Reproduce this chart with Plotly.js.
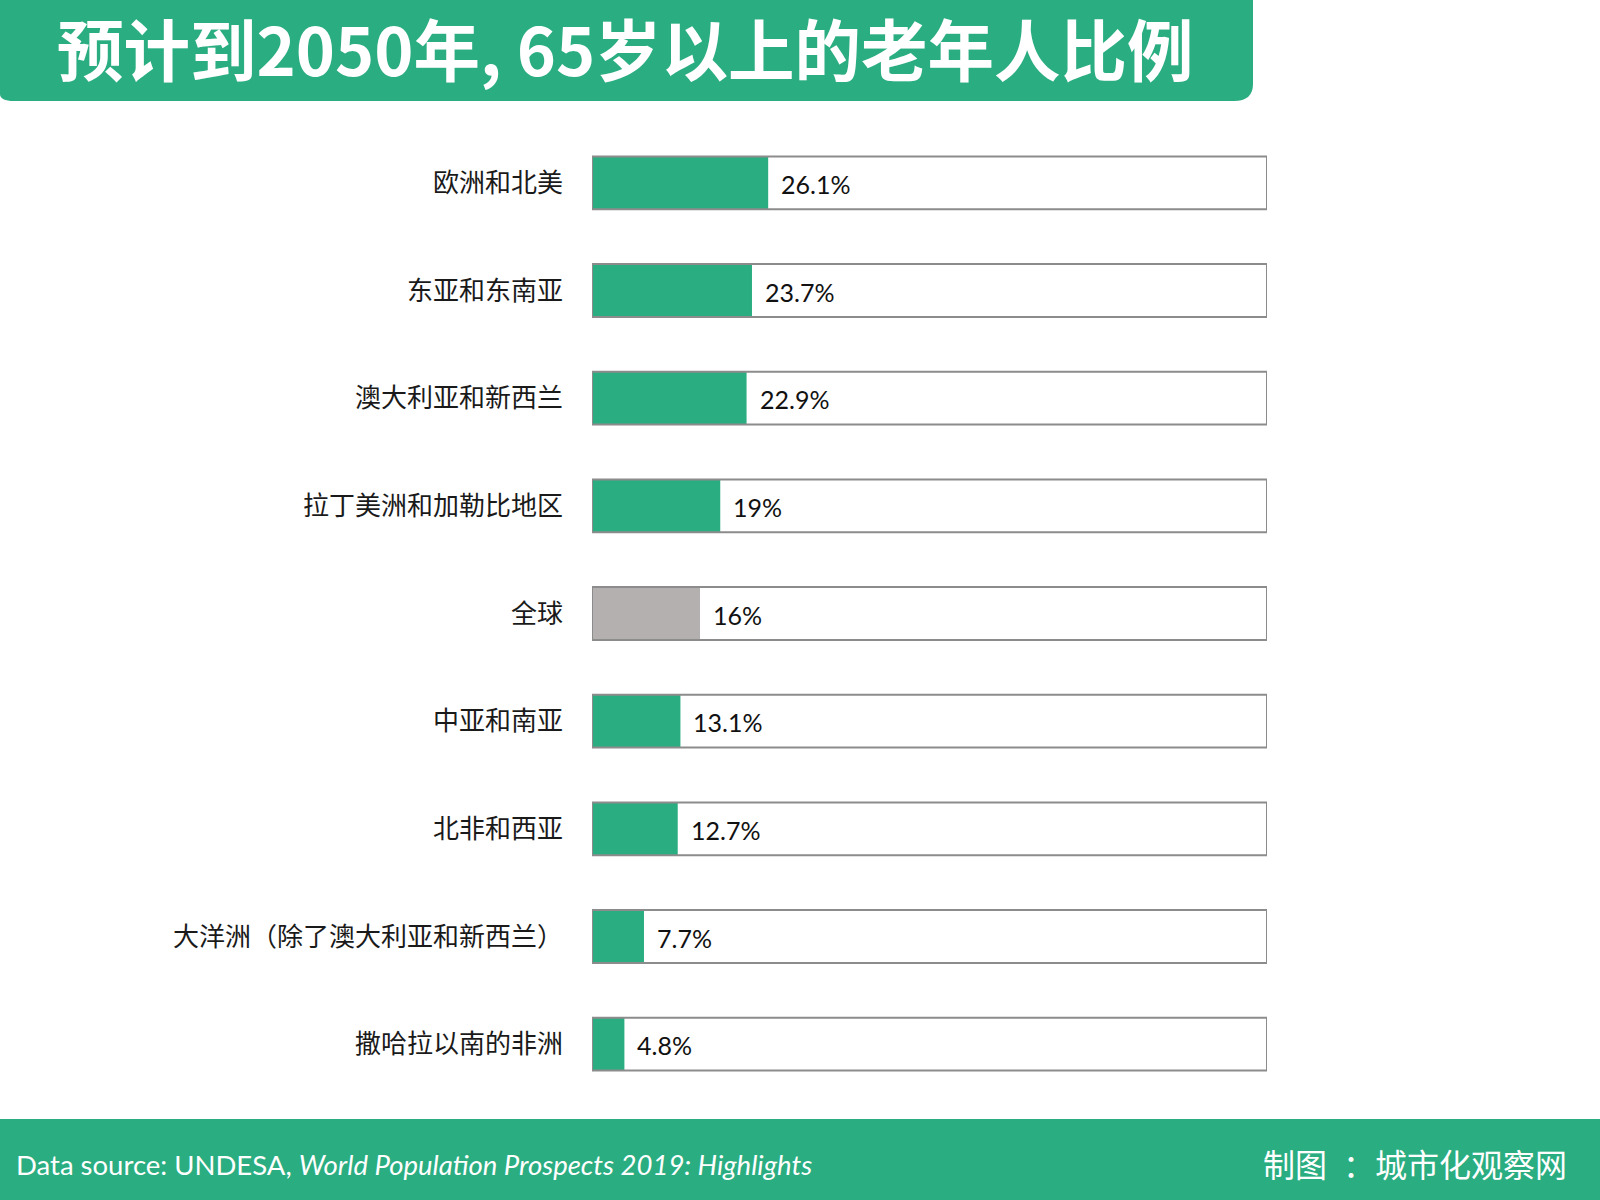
<!DOCTYPE html>
<html>
<head>
<meta charset="utf-8">
<script src="https://cdn.plot.ly/plotly-3.0.1.min.js"></script>
<style>html,body{margin:0;padding:0;background:#fff;}#chart{width:1600px;height:1200px;}</style>
</head>
<body>
<div id="chart"></div>
<script>
const categories = ["欧洲和北美","东亚和东南亚","澳大利亚和新西兰","拉丁美洲和加勒比地区","全球","中亚和南亚","北非和西亚","大洋洲（除了澳大利亚和新西兰）","撒哈拉以南的非洲"];
const values = [26.1, 23.7, 22.9, 19, 16, 13.1, 12.7, 7.7, 4.8];
const fullScale = [100, 100, 100, 100, 100, 100, 100, 100, 100];
const valueLabels = ["26.1%","23.7%","22.9%","19%","16%","13.1%","12.7%","7.7%","4.8%"];
const titleText = "预计到2050年, 65岁以上的老年人比例";
const sourceText = "Data source: UNDESA, <i>World Population Prospects 2019: Highlights</i>";
const creditLabel = "制图";
const creditName = "：城市化观察网";

const GREEN = "#2AAD81";
const GREY = "#B5B0B0";
const barColors = categories.map(c => c === "全球" ? GREY : GREEN);

const W = 1600, H = 1200;
const L = 592, R = 1267, T = 129, B = 1098;
const px = x => (x - L) / (R - L);
const py = y => (B - y) / (B - T);

const traceBars = {
  type: "bar", orientation: "h",
  y: categories, x: values,
  marker: {color: barColors, line: {width: 0}},
  width: 0.49, hoverinfo: "skip"
};
const traceFrame = {
  type: "bar", orientation: "h",
  y: categories, x: fullScale,
  marker: {color: "rgba(0,0,0,0)", line: {color: "#8C8C8C", width: 2}},
  width: 0.49, hoverinfo: "skip"
};

const annotations = categories.map((c, i) => ({
  x: values[i], y: c, xref: "x", yref: "y",
  text: valueLabels[i], showarrow: false,
  xanchor: "left", yanchor: "middle", xshift: 11, yshift: -1,
  font: {family: "Lato, 'Noto Sans', sans-serif", size: 25, color: "#111"}
}));

annotations.push({
  xref: "paper", yref: "paper", x: px(55), y: py(47),
  xanchor: "left", yanchor: "middle", showarrow: false,
  text: "<b>" + titleText + "</b>",
  font: {family: "'Noto Sans CJK SC', sans-serif", size: 66.5, color: "#fff"}
});
annotations.push({
  xref: "paper", yref: "paper", x: px(14), y: py(1164),
  xanchor: "left", yanchor: "middle", showarrow: false,
  text: sourceText,
  font: {family: "Lato, sans-serif", size: 27.5, color: "#fff"}
});
const creditFont = {family: "'Noto Sans CJK SC', sans-serif", size: 32, color: "#fff"};
annotations.push({
  xref: "paper", yref: "paper", x: px(1261), y: py(1163),
  xanchor: "left", yanchor: "middle", showarrow: false,
  text: creditLabel, font: creditFont
});
annotations.push({
  xref: "paper", yref: "paper", x: px(1569), y: py(1163),
  xanchor: "right", yanchor: "middle", showarrow: false,
  text: creditName, font: creditFont
});

const titlePath = "M " + px(0) + "," + py(0) +
  " L " + px(1253) + "," + py(0) +
  " L " + px(1253) + "," + py(84) +
  " Q " + px(1253) + "," + py(101) + " " + px(1234) + "," + py(101) +
  " L " + px(14) + "," + py(101) +
  " Q " + px(0) + "," + py(101) + " " + px(0) + "," + py(94) + " Z";

const shapes = [
  {type: "path", xref: "paper", yref: "paper", path: titlePath, fillcolor: GREEN, line: {width: 0}, layer: "below"},
  {type: "rect", xref: "paper", yref: "paper", x0: px(0), x1: px(W), y0: py(1119), y1: py(H), fillcolor: GREEN, line: {width: 0}, layer: "below"}
];

const layout = {
  width: W, height: H,
  margin: {l: L, r: W - R, t: T, b: H - B, pad: 0},
  paper_bgcolor: "#fff", plot_bgcolor: "#fff",
  barmode: "overlay", showlegend: false,
  xaxis: {range: [0, 100], visible: false, fixedrange: true},
  yaxis: {
    type: "category", autorange: "reversed",
    showgrid: false, zeroline: false, showline: false, ticks: "",
    ticklabelstandoff: 28,
    tickfont: {family: "'Noto Sans CJK SC', sans-serif", size: 26, color: "#1a1a1a"}
  },
  annotations: annotations,
  shapes: shapes
};

Plotly.newPlot("chart", [traceBars, traceFrame], layout, {staticPlot: true, displayModeBar: false});
</script>
</body>
</html>
